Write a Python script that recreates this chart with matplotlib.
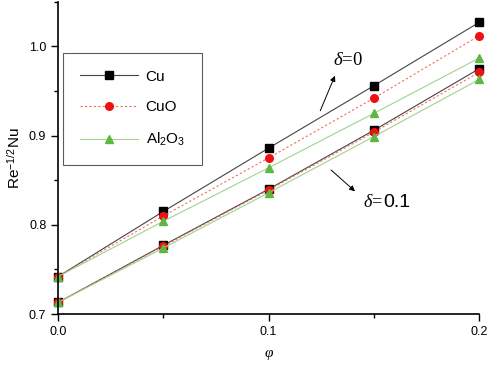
import matplotlib.pyplot as plt
from matplotlib.ticker import MultipleLocator

plt.rcParams['font.family'] = ['Liberation Sans', 'DejaVu Sans']
plt.rcParams['mathtext.fontset'] = 'custom'
plt.rcParams['mathtext.it'] = 'Liberation Serif:italic'
plt.rcParams['mathtext.rm'] = 'Liberation Sans'

# volume fraction
phi = [0.0, 0.05, 0.1, 0.15, 0.2]

# delta = 0
cu_d0 = [0.742, 0.815, 0.886, 0.956, 1.027]
cuo_d0 = [0.742, 0.810, 0.875, 0.942, 1.012]
al_d0 = [0.742, 0.804, 0.864, 0.925, 0.987]

# delta = 0.1
cu_d1 = [0.713, 0.777, 0.840, 0.906, 0.975]
cuo_d1 = [0.713, 0.776, 0.839, 0.904, 0.971]
al_d1 = [0.713, 0.774, 0.836, 0.899, 0.963]

fig = plt.figure(figsize=(4.92, 3.66), dpi=100)
ax = fig.add_axes([0.118, 0.142, 0.856, 0.853])

green = "#5db843"
styles = {
    "Cu": dict(color="#444444", ls="-", marker="s", mfc="black", mec="black"),
    "CuO": dict(color="#f07060", ls=(0, (2, 2)), marker="o", mfc="#ee1111", mec="#ee1111"),
    "Al$_2$O$_3$": dict(color="#9fd38f", ls="-", marker="^", mfc=green, mec=green),
}

for name, d0, d1 in [("Cu", cu_d0, cu_d1), ("CuO", cuo_d0, cuo_d1), ("Al$_2$O$_3$", al_d0, al_d1)]:
    st = styles[name]
    ax.plot(phi, d0, lw=0.8, ms=5.5, clip_on=False, label=name, **st)
    ax.plot(phi, d1, lw=0.8, ms=5.5, clip_on=False, **st)

ax.set_xlim(0, 0.2)
ax.set_ylim(0.7, 1.05)
ax.xaxis.set_major_locator(MultipleLocator(0.1))
ax.xaxis.set_minor_locator(MultipleLocator(0.05))
ax.yaxis.set_major_locator(MultipleLocator(0.1))
ax.yaxis.set_minor_locator(MultipleLocator(0.05))
ax.xaxis.set_major_formatter(lambda v, p: f"{v:.1f}")
ax.yaxis.set_major_formatter(lambda v, p: f"{v:.1f}")
ax.tick_params(which="major", direction="out", length=5, width=1, labelsize=9)
ax.tick_params(which="minor", direction="out", length=3, width=1)
ax.spines["top"].set_visible(False)
ax.spines["right"].set_visible(False)
for s in ["left", "bottom"]:
    ax.spines[s].set_linewidth(1.2)

ax.set_xlabel(r"$\mathit{\varphi}$", fontsize=11, labelpad=7)
ax.set_ylabel(r"Re$^{-1/2}$Nu", fontsize=11, labelpad=4)

leg = ax.legend(loc="upper left", bbox_to_anchor=(0.012, 0.837), numpoints=1,
                handlelength=3.8, fontsize=11, fancybox=False, edgecolor="#333333",
                borderpad=1.1, labelspacing=1.1, handletextpad=0.5, borderaxespad=0)
leg.get_frame().set_linewidth(0.8)

ax.annotate("", xy=(0.132, 0.970), xytext=(0.124, 0.925),
            arrowprops=dict(arrowstyle="-|>", color="black", lw=0.7, mutation_scale=8))
ax.text(0.1305, 0.984, r"$\mathit{\delta}$=0", fontsize=13.5, family="Liberation Serif",
        ha="left", va="center")
ax.annotate("", xy=(0.142, 0.8355), xytext=(0.1287, 0.8635),
            arrowprops=dict(arrowstyle="-|>", color="black", lw=0.7, mutation_scale=8))
ax.text(0.145, 0.8245, r"$\mathit{\delta}$=", fontsize=13, family="Liberation Serif",
        ha="left", va="center")
ax.text(0.1545, 0.8254, "0.1", fontsize=14, ha="left", va="center")

fig.savefig("out.png", dpi=100)
